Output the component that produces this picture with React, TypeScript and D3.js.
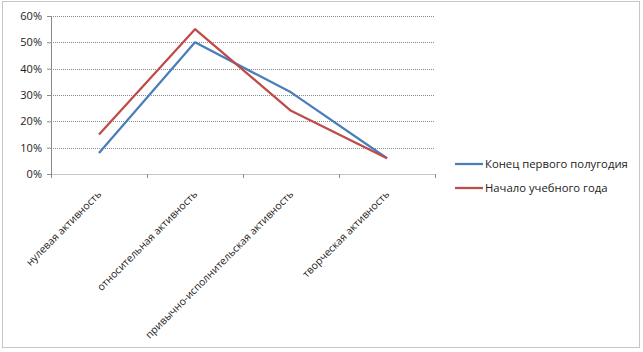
import React, { useRef, useEffect } from "react";
import * as d3 from "d3";

// категории и значения (доли)
const categories = [
  "нулевая активность",
  "относительная активность",
  "привычно-исполнительская активность",
  "творческая активность",
];
const endOfHalf = [0.08, 0.5, 0.31, 0.06];
const startOfYear = [0.15, 0.55, 0.24, 0.06];
const seriesNames = ["Конец первого полугодия", "Начало учебного года"];
const seriesColors = ["#4a7ebb", "#be4b48"];
const yTicks = [0, 0.1, 0.2, 0.3, 0.4, 0.5, 0.6];

const width = 643;
const height = 352;

const App = () => {
  const ref = useRef<SVGSVGElement>(null);

  useEffect(() => {
    const svg = d3.select(ref.current);
    svg.selectChildren().remove();

    const font = "'Open Sans', 'DejaVu Sans', sans-serif";
    const margin = { left: 51, top: 16, right: 208, bottom: 178 };
    const plotW = width - margin.left - margin.right;
    const plotH = height - margin.top - margin.bottom;

    // рамка
    svg
      .append("rect")
      .attr("x", 2.5)
      .attr("y", 1.5)
      .attr("width", 637)
      .attr("height", 346)
      .attr("fill", "#fff")
      .attr("stroke", "#8c8c8c")
      .attr("stroke-dasharray", "1,1");

    const g = svg
      .append("g")
      .attr("transform", `translate(${margin.left},${margin.top})`);

    const x = d3.scaleBand().domain(categories).range([0, plotW]);
    const y = d3.scaleLinear().domain([0, 0.6]).range([plotH, 0]);

    // сетка
    g.selectAll("line.grid")
      .data(yTicks.slice(1))
      .enter()
      .append("line")
      .attr("class", "grid")
      .attr("x1", 0)
      .attr("x2", plotW)
      .attr("y1", (d) => Math.round(y(d)) + 0.5)
      .attr("y2", (d) => Math.round(y(d)) + 0.5)
      .attr("stroke", "#8a8a8a")
      .attr("stroke-dasharray", "1,1");

    // ось Y
    const yAxis = g
      .append("g")
      .call(
        d3
          .axisLeft(y)
          .tickValues(yTicks)
          .tickSize(4)
          .tickFormat((d) => `${Math.round(+d * 100)}%`)
      );
    yAxis.select(".domain").attr("stroke", "#8a8a8a");
    yAxis.selectAll(".tick line").attr("stroke", "#8a8a8a");
    yAxis
      .selectAll(".tick text")
      .attr("font-family", font)
      .attr("font-size", 11)
      .attr("fill", "#222")
      .attr("x", -9);

    // ось X
    const xAxis = g
      .append("g")
      .attr("transform", `translate(0,${plotH})`)
      .call(d3.axisBottom(x).tickSize(0).tickFormat(() => ""));
    xAxis
      .select(".domain")
      .attr("stroke", "#8a8a8a")
      .attr("stroke-dasharray", "1,1");
    xAxis.selectAll(".tick").remove();

    // засечки по границам категорий
    g.selectAll("line.xtick")
      .data(categories.concat(["end"]))
      .enter()
      .append("line")
      .attr("class", "xtick")
      .attr("x1", (_, i) => i * x.bandwidth() + 0.5)
      .attr("x2", (_, i) => i * x.bandwidth() + 0.5)
      .attr("y1", plotH)
      .attr("y2", plotH + 4)
      .attr("stroke", "#8a8a8a");

    // подписи категорий
    g.selectAll("text.cat")
      .data(categories)
      .enter()
      .append("text")
      .attr("class", "cat")
      .attr(
        "transform",
        (d) => `translate(${x(d)! + x.bandwidth() / 2 + 3},${plotH + 21}) rotate(-45)`
      )
      .attr("text-anchor", "end")
      .attr("font-family", font)
      .attr("font-size", 10.4)
      .attr("fill", "#222")
      .text((d) => d);

    // линии
    const line = d3
      .line<number>()
      .x((_, i) => x(categories[i])! + x.bandwidth() / 2)
      .y((d) => y(d));

    [endOfHalf, startOfYear].forEach((s, k) => {
      g.append("path")
        .datum(s)
        .attr("d", line)
        .attr("fill", "none")
        .attr("stroke", seriesColors[k])
        .attr("stroke-width", 2.25)
        .attr("stroke-linejoin", "round");
    });

    // легенда
    const legend = svg
      .append("g")
      .attr("transform", "translate(455,164)");
    seriesNames.forEach((name, k) => {
      const row = legend.append("g").attr("transform", `translate(0,${k * 24})`);
      row
        .append("line")
        .attr("x1", 0)
        .attr("x2", 28)
        .attr("stroke", seriesColors[k])
        .attr("stroke-width", 2.25);
      row
        .append("text")
        .attr("x", 30)
        .attr("dy", "0.35em")
        .attr("font-family", font)
        .attr("font-size", 11.3)
        .attr("fill", "#222")
        .text(name);
    });
  }, []);

  return (
    <svg
      ref={ref}
      width={width}
      height={height}
      style={{ position: "absolute", left: 0, top: 0 }}
    />
  );
};

export default App;
